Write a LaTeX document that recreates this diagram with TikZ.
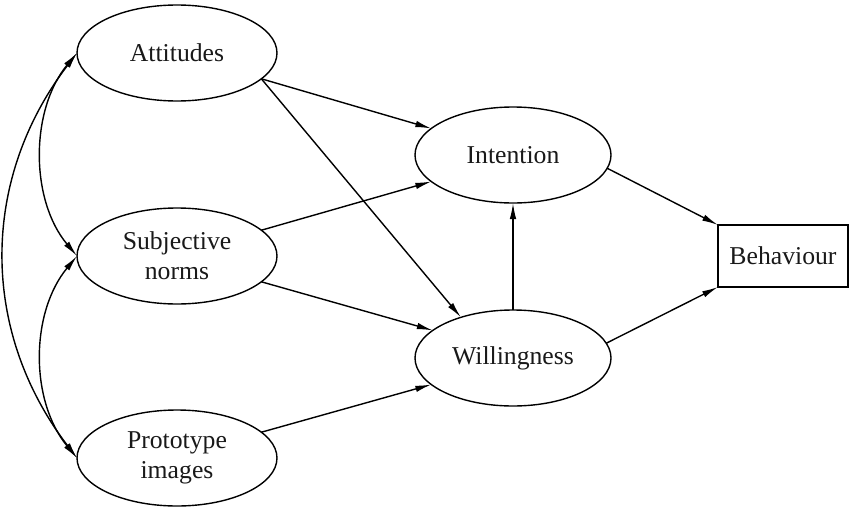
\documentclass[tikz,border=0pt]{standalone}
\usepackage{fontspec}
\setmainfont{Liberation Serif}
\usetikzlibrary{shapes.geometric,arrows.meta}
\begin{document}
\begin{tikzpicture}[x=1pt,y=-1pt,
  every node/.style={font=\fontsize{25.7}{30}\selectfont, text=black!90},
  ell/.style={draw, ellipse, line width=1.4pt, inner sep=0pt, outer sep=0pt, align=center,
              minimum width=200pt, minimum height=96pt},
  ellb/.style={ell, minimum width=196pt},
  boxn/.style={draw, rectangle, line width=1.4pt, inner sep=0pt, outer sep=0pt,
               minimum width=130pt, minimum height=62pt},
  arr/.style={line width=1.4pt, -{Latex[length=16pt,width=6.5pt]}},
  darr/.style={line width=1.4pt, {Latex[length=16pt,width=6.5pt]}-{Latex[length=16pt,width=6.5pt]}}
]
\useasboundingbox (0,0) rectangle (851,506);
\node[ell] (att) at (177,53) {Attitudes};
\node[ell] (sn) at (177,256) {Subjective\\norms};
\node[ell] (proto) at (177,458) {Prototype\\images};
\node[ellb] (int) at (513,155) {Intention};
\node[ellb] (will) at (513,358) {Willingness};
\node[boxn] (beh) at (783,256) {Behaviour};

\draw[arr] (att.-17) -- (int.162);
\draw[arr] (att.-17) -- (will.142);
\draw[arr] (sn.17) -- (int.198);
\draw[arr] (sn.-17) -- (will.161);
\draw[arr] (proto.17) -- (will.198);
\draw[arr] (will.north) -- (int.south);
\draw[arr] (int.-8) -- (beh.north west);
\draw[arr] (will.9) -- (beh.south west);

\draw[darr] (att.west) .. controls (30,110) and (30,200) .. (sn.west);
\draw[darr] (sn.west) .. controls (30,313) and (30,401) .. (proto.west);
\draw[darr] (att.west) .. controls (-20,180) and (-20,331) .. (proto.west);
\end{tikzpicture}
\end{document}
